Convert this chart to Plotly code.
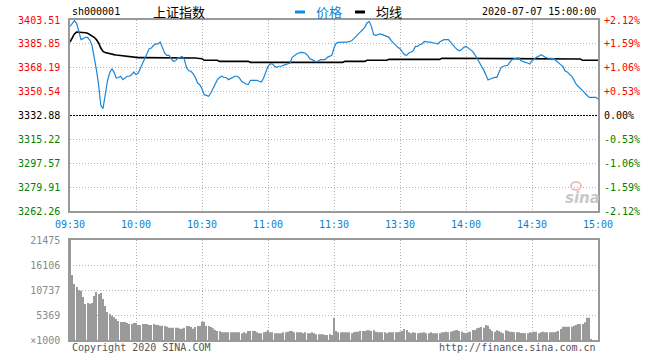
import plotly.graph_objects as go

# ---------------- data ----------------
tick_idx = [0, 30, 60, 90, 120, 150, 180, 210, 240]
tick_times = ["09:30", "10:00", "10:30", "11:00", "11:30", "13:30", "14:00", "14:30", "15:00"]

price_ticks = [3403.51, 3385.85, 3368.19, 3350.54, 3332.88, 3315.22, 3297.57, 3279.91, 3262.26]
pct_labels = ["+2.12%", "+1.59%", "+1.06%", "+0.53%", "0.00%", "-0.53%", "-1.06%", "-1.59%", "-2.12%"]
prev_close = 3332.88

vol_ticks = [21475, 16106, 10737, 5369, 0]
vol_labels = ["21475", "16106", "10737", "5369", "×1000"]

price = [
    3398.8, 3401.3, 3403.0, 3401.0, 3395.0, 3389.0, 3389.7, 3390.7, 3390.7, 3388.7,
    3384.8, 3376.7, 3366.8, 3355.7, 3340.4, 3338.0, 3348.3, 3358.2, 3364.3, 3367.5,
    3365.0, 3360.6, 3361.0, 3361.9, 3359.4, 3361.0, 3361.9, 3361.9, 3363.0, 3365.0,
    3363.0, 3364.3, 3368.0, 3371.7, 3374.9, 3379.1, 3382.3, 3382.8, 3384.8, 3385.8,
    3385.8, 3387.2, 3383.3, 3379.1, 3377.4, 3377.4, 3374.9, 3373.0, 3373.4, 3375.4,
    3375.9, 3376.6, 3374.2, 3368.0, 3366.0, 3365.6, 3363.6, 3361.0, 3356.9, 3355.7,
    3352.7, 3348.3, 3347.8, 3347.1, 3349.5, 3353.2, 3356.9, 3359.4, 3361.0, 3361.9,
    3361.0, 3361.0, 3359.4, 3360.1, 3361.0, 3361.9, 3361.9, 3360.6, 3358.2, 3356.9,
    3356.2, 3355.7, 3358.9, 3358.9, 3358.9, 3358.9, 3358.2, 3357.7, 3360.6, 3365.6,
    3369.3, 3371.0, 3371.0, 3369.3, 3368.5, 3369.3, 3369.3, 3370.0, 3370.5, 3371.0,
    3371.7, 3375.9, 3377.4, 3378.4, 3379.1, 3379.6, 3379.4, 3378.9, 3377.4, 3374.9,
    3374.2, 3373.4, 3372.5, 3373.4, 3374.2, 3374.2, 3374.2, 3375.9, 3376.6, 3377.4,
    3382.8, 3386.3, 3387.0, 3387.2, 3387.2, 3387.2, 3387.2, 3387.7, 3388.2, 3389.7,
    3391.4, 3393.2, 3395.1, 3396.4, 3398.1, 3401.3, 3402.5, 3398.8, 3392.7, 3392.2,
    3392.7, 3393.2, 3392.7, 3392.2, 3391.4, 3390.7, 3388.2, 3386.5, 3385.3, 3383.3,
    3382.3, 3380.3, 3377.9, 3377.4, 3379.1, 3379.8, 3380.8, 3384.0, 3384.0, 3385.3,
    3385.8, 3387.7, 3387.2, 3387.2, 3387.2, 3386.5, 3386.5, 3385.8, 3387.2, 3388.2,
    3389.0, 3389.0, 3389.0, 3387.2, 3384.8, 3383.3, 3381.6, 3380.8, 3381.6, 3383.3,
    3384.0, 3382.8, 3381.6, 3380.3, 3377.9, 3375.4, 3372.5, 3369.3, 3366.8, 3363.1,
    3359.2, 3359.9, 3360.6, 3361.1, 3361.1, 3365.6, 3368.5, 3369.3, 3369.7, 3370.0,
    3372.5, 3374.2, 3374.9, 3375.4, 3375.4, 3373.4, 3372.5, 3372.2, 3371.7, 3371.0,
    3373.4, 3374.9, 3375.9, 3376.6, 3377.9, 3377.1, 3375.9, 3375.4, 3375.4, 3375.4,
    3374.9, 3373.4, 3371.7, 3370.5, 3369.3, 3366.0, 3365.1, 3363.6, 3361.9, 3359.4,
    3356.2, 3354.5, 3353.2, 3351.3, 3349.5, 3347.8, 3346.3, 3346.3, 3346.3, 3346.3,
    3345.1,
]

avg_price = [
    3387.2, 3390.2, 3393.2, 3394.6, 3394.6, 3394.5, 3394.5, 3394.1, 3393.7, 3392.7,
    3391.9, 3390.7, 3389.0, 3386.5, 3382.8, 3380.3, 3379.4, 3378.9, 3378.4, 3378.1,
    3377.9, 3377.6, 3377.4, 3377.1, 3376.9, 3376.6, 3376.4, 3376.2, 3375.9, 3375.7,
    3375.7, 3375.7, 3375.7, 3375.7, 3375.7, 3375.7, 3375.7, 3375.7, 3375.7, 3375.7,
    3375.7, 3375.9, 3375.9, 3375.9, 3375.9, 3375.9, 3375.9, 3375.9, 3375.9, 3375.9,
    3375.9, 3375.9, 3375.9, 3375.9, 3375.9, 3375.9, 3375.4, 3375.4, 3375.2, 3374.9,
    3374.9, 3373.7, 3373.7, 3373.7, 3373.7, 3373.7, 3373.7, 3373.7, 3372.9, 3372.9,
    3372.9, 3372.9, 3372.9, 3372.9, 3372.9, 3372.9, 3372.9, 3372.9, 3372.9, 3372.9,
    3372.9, 3372.9, 3372.2, 3372.2, 3372.2, 3372.2, 3372.2, 3372.2, 3372.2, 3372.2,
    3372.2, 3372.2, 3372.2, 3372.2, 3372.2, 3372.2, 3372.2, 3372.2, 3372.2, 3372.2,
    3372.2, 3372.2, 3372.2, 3372.2, 3372.2, 3372.2, 3372.2, 3372.2, 3372.2, 3372.2,
    3372.2, 3372.2, 3372.2, 3372.2, 3372.2, 3372.2, 3372.2, 3372.2, 3372.2, 3372.2,
    3372.2, 3372.2, 3372.2, 3372.2, 3372.2, 3372.9, 3372.9, 3372.9, 3372.9, 3372.9,
    3372.9, 3372.9, 3372.9, 3372.9, 3372.9, 3373.7, 3373.7, 3373.7, 3373.7, 3373.7,
    3373.7, 3373.7, 3373.7, 3373.7, 3373.7, 3374.4, 3374.4, 3374.4, 3374.4, 3374.4,
    3374.4, 3374.4, 3374.4, 3374.4, 3374.4, 3374.4, 3374.4, 3374.4, 3374.4, 3374.4,
    3374.4, 3374.4, 3374.4, 3374.4, 3374.4, 3374.4, 3374.4, 3374.4, 3374.4, 3375.2,
    3375.2, 3375.2, 3375.2, 3375.2, 3375.2, 3375.2, 3375.2, 3375.2, 3375.2, 3375.2,
    3375.2, 3375.2, 3375.2, 3375.2, 3375.2, 3375.2, 3375.2, 3375.2, 3375.2, 3375.2,
    3375.2, 3375.2, 3375.2, 3375.2, 3375.2, 3374.7, 3374.7, 3374.7, 3374.7, 3374.7,
    3374.7, 3374.7, 3374.7, 3374.7, 3374.7, 3374.7, 3374.7, 3374.7, 3374.7, 3374.7,
    3374.7, 3374.7, 3374.7, 3374.7, 3374.7, 3374.7, 3374.7, 3374.7, 3374.7, 3374.7,
    3374.7, 3374.7, 3374.7, 3374.7, 3374.7, 3374.7, 3374.7, 3374.7, 3374.7, 3374.7,
    3374.7, 3374.7, 3374.7, 3373.7, 3373.7, 3373.7, 3373.7, 3373.7, 3373.7, 3373.7,
    3373.7,
]

volume = [
    21475, 13958, 12025, 11381, 10665, 10594, 9234, 7731, 7945, 7802,
    7945, 9449, 10308, 9878, 10093, 8804, 7301, 6013, 5583, 5225,
    4867, 4510, 4080, 3865, 3865, 3865, 3651, 3436, 3436, 3651,
    3651, 3221, 3221, 3436, 3436, 3436, 3221, 3221, 3436, 3221,
    3221, 3078, 3078, 3006, 2863, 2648, 2648, 2648, 2648, 2648,
    2434, 2434, 2648, 3006, 3006, 2792, 2434, 2792, 3006, 3006,
    3936, 3936, 3006, 3006, 2792, 2505, 2147, 1933, 1862, 1646,
    1646, 1646, 1646, 1646, 1646, 1646, 1646, 1646, 1432, 1646,
    1432, 1933, 1933, 1933, 1933, 1646, 1432, 1432, 1646, 1790,
    2076, 1646, 1646, 1432, 1432, 1432, 1432, 1646, 1646, 1790,
    1933, 1933, 1646, 1646, 1646, 1646, 1432, 1646, 1432, 1432,
    1646, 1432, 1217, 1217, 1217, 1217, 1074, 1074, 1217, 1074,
    4796, 1933, 1646, 1646, 1646, 1646, 1646, 1646, 1432, 1646,
    1790, 1790, 1933, 1933, 1933, 2076, 2076, 1933, 2076, 1790,
    1646, 1646, 1646, 1646, 1432, 1646, 1646, 1646, 1646, 1646,
    1790, 1933, 2362, 2147, 1646, 1432, 1646, 1575, 1432, 1575,
    1575, 1646, 1432, 1432, 1646, 1432, 1432, 1432, 1432, 1646,
    1646, 1790, 1646, 1790, 1933, 2076, 2147, 1933, 1790, 1575,
    1432, 1646, 1790, 2147, 2147, 2505, 2648, 2792, 2648, 3221,
    3078, 2362, 1933, 1790, 2076, 1933, 1646, 1432, 2076, 1933,
    1790, 1790, 1646, 1646, 1646, 1503, 1503, 1432, 1432, 1646,
    1646, 1790, 1790, 1432, 1646, 1790, 1646, 1646, 1646, 1646,
    1646, 1790, 1933, 2362, 2863, 2863, 2863, 2863, 2863, 3078,
    3221, 3436, 3436, 3436, 3794, 4796, 4796, 215, 0, 0,
    0,
]

minutes = list(range(len(price)))

# ---------------- styling ----------------
W, H = 660, 360
MONO = "DejaVu Sans Mono"
CJK = "Noto Sans CJK SC"
RED, GREEN, BLUE = "#ff0000", "#008000", "#0b7fd2"
GRID = "#b4b4b4"
FRAME = "#999999"


def px(x):
    return x / W


def py(y):
    return 1 - y / H


def colored(label, value):
    if value > prev_close + 1e-6:
        c = RED
    elif value < prev_close - 1e-6:
        c = GREEN
    else:
        c = "#000000"
    return f'<span style="color:{c}">{label}</span>'


left_text = [colored(f"{v:.2f}", v) for v in price_ticks]
right_text = [colored(t, v) for t, v in zip(pct_labels, price_ticks)]

fig = go.Figure()
fig.add_trace(go.Bar(x=minutes, y=volume, xaxis="x2", yaxis="y2",
                     marker=dict(color="#9a9a9a", line=dict(width=0)),
                     hoverinfo="skip", showlegend=False))
fig.add_trace(go.Scatter(x=minutes, y=avg_price, mode="lines",
                         line=dict(color="#000000", width=1.6),
                         hoverinfo="skip", showlegend=False))
fig.add_trace(go.Scatter(x=minutes, y=price, mode="lines",
                         line=dict(color="#1a86d6", width=1.2),
                         hoverinfo="skip", showlegend=False))
fig.add_trace(go.Scatter(x=[minutes[0]], y=[prev_close], yaxis="y3", mode="markers",
                         marker=dict(opacity=0), hoverinfo="skip", showlegend=False))

xdom = [px(70), px(598)]
axis_common = dict(showline=True, linecolor=FRAME, linewidth=1.5, mirror=True,
                   showgrid=True, gridcolor=GRID, gridwidth=1, griddash="1px,2px",
                   zeroline=False, fixedrange=True, automargin=False)

fig.update_layout(
    width=W, height=H, margin=dict(l=0, r=0, t=0, b=0, autoexpand=False),
    paper_bgcolor="white", plot_bgcolor="white",
    bargap=0.5, showlegend=False,
    font=dict(family=MONO, size=10, color="#000"),
    xaxis=dict(domain=xdom, range=[0, 240], anchor="y",
               tickmode="array", tickvals=tick_idx, ticktext=tick_times,
               tickfont=dict(family=MONO, size=10, color=BLUE),
               ticks="", ticklabelstandoff=3, **axis_common),
    yaxis=dict(domain=[py(211), py(20)], range=[price_ticks[-1], price_ticks[0]],
               anchor="x", tickmode="array", tickvals=price_ticks, ticktext=left_text,
               tickfont=dict(family=MONO, size=10), ticks="", ticklabelstandoff=6,
               **axis_common),
    yaxis3=dict(overlaying="y", side="right", anchor="x",
                range=[price_ticks[-1], price_ticks[0]],
                tickmode="array", tickvals=price_ticks, ticktext=right_text,
                tickfont=dict(family=MONO, size=10), ticks="", ticklabelstandoff=5,
                showgrid=False, zeroline=False, showline=False, fixedrange=True,
                automargin=False),
    xaxis2=dict(domain=xdom, range=[0, 240], anchor="y2", matches="x",
                tickmode="array", tickvals=tick_idx, showticklabels=False,
                ticks="", **axis_common),
    yaxis2=dict(domain=[py(340), py(240)], range=[0, vol_ticks[0]], anchor="x2",
                tickmode="array", tickvals=vol_ticks, ticktext=vol_labels,
                tickfont=dict(family=MONO, size=10, color="#8a8a8a"),
                ticks="", ticklabelstandoff=6, **axis_common),
)

# previous-close dashed line
fig.add_shape(type="line", xref="x domain", yref="y", x0=0, x1=1,
              y0=prev_close, y1=prev_close, line=dict(color="#000", width=1, dash="2px,1px"))

# header texts
ann = [
    dict(text="sh000001", x=px(70), y=py(12), xanchor="left", font=dict(family=MONO, size=10, color="#000")),
    dict(text="上证指数", x=px(151), y=py(12), xanchor="left", font=dict(family=CJK, size=13, color="#000")),
    dict(text="价格", x=px(314), y=py(12), xanchor="left", font=dict(family=CJK, size=13, color=BLUE)),
    dict(text="均线", x=px(374), y=py(12), xanchor="left", font=dict(family=CJK, size=13, color="#000")),
    dict(text="2020-07-07 15:00:00", x=px(598), y=py(12), xanchor="right", font=dict(family=MONO, size=10, color="#000")),
    dict(text="Copyright 2020 SINA.COM", x=px(70), y=py(347), xanchor="left", font=dict(family=MONO, size=10, color="#555")),
    dict(text="http://finance.sina.com.cn", x=px(598), y=py(347), xanchor="right", font=dict(family=MONO, size=10, color="#555")),
    dict(text="<b><i>sina</i></b>", x=px(582), y=py(198), xanchor="center", font=dict(family="DejaVu Sans", size=15, color="#c8c8c8")),
]
for a in ann:
    fig.add_annotation(xref="paper", yref="paper", yanchor="middle", showarrow=False, **a)

# legend swatches
fig.add_shape(type="rect", xref="paper", yref="paper", x0=px(295), x1=px(305), y0=py(13.5), y1=py(10.5),
              fillcolor="#1a86d6", line=dict(width=0))
fig.add_shape(type="rect", xref="paper", yref="paper", x0=px(355), x1=px(365), y0=py(13.5), y1=py(10.5),
              fillcolor="#000", line=dict(width=0))
# sina eye mark
fig.add_shape(type="circle", xref="paper", yref="paper", x0=px(571), x1=px(581), y0=py(190), y1=py(182),
              line=dict(color="#e8b0b0", width=1.5))

fig.write_html("out.html")
